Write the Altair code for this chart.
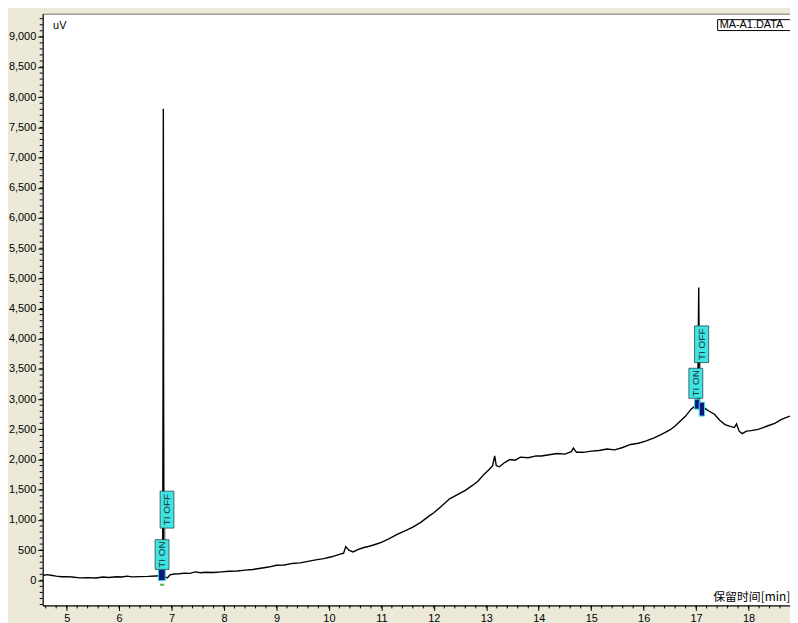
import altair as alt
import pandas as pd

# ---- chromatogram trace (minutes, uV) ----
time_min = [4.55, 4.62, 4.70, 4.80, 4.90, 5.00, 5.10, 5.25, 5.40, 5.55, 5.70, 5.80, 5.95, 6.05,
            6.15, 6.25, 6.40, 6.55, 6.70, 6.78, 6.83, 6.838, 6.843, 6.848, 6.856, 6.87, 6.92,
            6.97, 7.05, 7.15, 7.25, 7.35, 7.45, 7.55, 7.65, 7.80, 7.95, 8.10, 8.25, 8.40, 8.55,
            8.70, 8.85, 9.00, 9.15, 9.30, 9.45, 9.60, 9.75, 9.90, 10.05, 10.20, 10.28, 10.32,
            10.38, 10.46, 10.55, 10.65, 10.75, 10.85, 11.00, 11.15, 11.30, 11.45, 11.60, 11.75,
            11.90, 12.00, 12.15, 12.30, 12.45, 12.60, 12.75, 12.85, 12.95, 13.05, 13.12, 13.16,
            13.19, 13.25, 13.35, 13.45, 13.55, 13.65, 13.80, 13.95, 14.05, 14.20, 14.35, 14.50,
            14.62, 14.66, 14.72, 14.85, 15.00, 15.15, 15.30, 15.45, 15.60, 15.75, 15.90, 16.05,
            16.20, 16.35, 16.50, 16.60, 16.70, 16.80, 16.90, 16.97, 17.03, 17.05, 17.065, 17.10,
            17.15, 17.25, 17.35, 17.45, 17.55, 17.65, 17.73, 17.77, 17.82, 17.88, 17.96, 18.05,
            18.18, 18.28, 18.37, 18.50, 18.62, 18.70, 18.79]
signal_uv = [80, 95, 85, 70, 60, 62, 55, 40, 45, 38, 55, 48, 60, 55,
             70, 58, 62, 65, 72, 75, 95, 3490, 7810, 3400, 150, 60, 40,
             90, 105, 110, 120, 115, 140, 125, 135, 130, 140, 150, 155, 170, 180,
             200, 220, 250, 255, 280, 290, 315, 340, 360, 390, 430, 450, 560,
             500, 470, 510, 540, 560, 585, 630, 690, 760, 820, 880, 960,
             1060, 1120, 1230, 1350, 1420, 1490, 1580, 1650, 1750, 1830, 1900, 2060,
             1900, 1880, 1950, 2000, 1990, 2040, 2030, 2060, 2060, 2080, 2100, 2090,
             2130, 2190, 2120, 2120, 2140, 2150, 2175, 2160, 2200, 2250, 2270, 2310,
             2360, 2420, 2490, 2555, 2640, 2720, 2830, 2880, 2900, 4850, 2950, 2900,
             2860, 2800, 2750, 2650, 2580, 2550, 2530, 2590, 2470, 2430, 2470, 2480,
             2500, 2530, 2560, 2600, 2660, 2690, 2720]

# ---- integration event flags ----
event_labels = ["TI ON", "TI OFF", "TI ON", "TI OFF"]
event_x1 = [6.686, 6.781, 16.862, 16.970]
event_x2 = [6.951, 7.045, 17.127, 17.240]
event_y1 = [181, 865, 3015, 3606]
event_y2 = [673, 1477, 3512, 4213]

# connectors between flags
conn_x = [6.875, 17.08]
conn_y1 = [673, 3512]
conn_y2 = [865, 3606]

# peak start/end markers
marker_x1 = [6.749, 16.97, 17.06]
marker_x2 = [6.880, 17.07, 17.16]
marker_y1 = [-5, 2835, 2720]
marker_y2 = [180, 3000, 2950]
green_x1 = [6.78]
green_x2 = [6.86]
green_y1 = [-90]
green_y2 = [-55]

# ---- axes ----
x_major = list(range(5, 19))
x_minor = [round(4.6 + 0.2 * i, 1) for i in range(71)]
y_major = list(range(0, 9001, 500))
y_minor = list(range(-400, 9301, 100))

W, H = 754, 597
xs = alt.Scale(domain=[4.543, 18.79], nice=False, zero=False)
ys = alt.Scale(domain=[-415, 9383], nice=False, zero=False)

x_axis = alt.Axis(
    values=x_major, labelExpr="format(datum.value, 'd')", labelFontSize=11,
    labelColor="black", tickSize=5,
    labelPadding=2, domainColor="black", tickColor="black", grid=False,
    labelFlush=False, title="保留时间[min]", titleX=676, titleY=-5,
    titleAlign="left", titleBaseline="alphabetic", titleFont="Noto Sans CJK SC",
    titleFontSize=12, titleFontWeight="normal", titleColor="black")
y_axis = alt.Axis(
    values=y_major, labelExpr="format(datum.value, ',')", labelFontSize=11,
    labelColor="black", tickSize=5,
    labelPadding=2, domainColor="black", tickColor="black", grid=False,
    title="uV", titleAngle=0, titleX=10, titleY=12, titleAlign="left",
    titleBaseline="middle", titleFontSize=11, titleFontWeight="normal",
    titleColor="black")

trace = pd.DataFrame({"t": time_min, "v": signal_uv})
events = pd.DataFrame({"label": event_labels, "t": event_x1, "t2": event_x2,
                       "v": event_y1, "v2": event_y2})
events["tm"] = (events["t"] + events["t2"]) / 2
events["vm"] = (events["v"] + events["v2"]) / 2
conns = pd.DataFrame({"t": conn_x, "v": conn_y1, "v2": conn_y2})
markers = pd.DataFrame({"t": marker_x1, "t2": marker_x2, "v": marker_y1, "v2": marker_y2})
greens = pd.DataFrame({"t": green_x1, "t2": green_x2, "v": green_y1, "v2": green_y2})
xminor = pd.DataFrame({"t": x_minor})
yminor = pd.DataFrame({"v": y_minor})
one = pd.DataFrame({"a": [0]})


def X(field="t"):
    return alt.X(f"{field}:Q", scale=xs, axis=x_axis)


def Y(field="v"):
    return alt.Y(f"{field}:Q", scale=ys, axis=y_axis)


line = alt.Chart(trace).mark_line(color="black", strokeWidth=1.4).encode(x=X(), y=Y())

yminor_ticks = alt.Chart(yminor).mark_rule(color="black", strokeWidth=1).encode(
    y=Y(), x=alt.value(-3), x2=alt.value(0))
xminor_ticks = alt.Chart(xminor).mark_rule(color="black", strokeWidth=1).encode(
    x=X(), y=alt.value(H), y2=alt.value(H + 3))

conn_rules = alt.Chart(conns).mark_rule(color="#888888", strokeWidth=1).encode(
    x=X(), y=Y(), y2="v2:Q")

marker_rects = alt.Chart(markers).mark_rect(fill="#101880", stroke="#40E0E0", strokeWidth=1).encode(
    x=X(), x2="t2:Q", y=Y(), y2="v2:Q")
green_rects = alt.Chart(greens).mark_rect(fill="#5cb85c").encode(
    x=X(), x2="t2:Q", y=Y(), y2="v2:Q")

flag_rects = alt.Chart(events).mark_rect(fill="#40E4E4", stroke="#2a4a4a", strokeWidth=0.8).encode(
    x=X(), x2="t2:Q", y=Y(), y2="v2:Q")
flag_text = alt.Chart(events).mark_text(angle=270, fontSize=10, color="#1f3535",
                                        align="center", baseline="middle").encode(
    x=X("tm"), y=Y("vm"), text="label:N")

file_box = alt.Chart(one).mark_rect(fill="white", stroke="black", strokeWidth=1).encode(
    x=alt.value(681), x2=alt.value(770), y=alt.value(6), y2=alt.value(17))
file_text = alt.Chart(one).mark_text(text="MA-A1.DATA", fontSize=11, color="black",
                                     align="left", baseline="middle").encode(
    x=alt.value(683), y=alt.value(11.5))

chart = alt.layer(
    line, yminor_ticks, xminor_ticks, conn_rules, marker_rects, green_rects,
    flag_rects, flag_text, file_box, file_text
).properties(
    width=W, height=H,
    autosize=alt.AutoSizeParams(type="none"),
    padding={"left": 35, "top": 3, "right": 0, "bottom": 15},
    background="#ECE9D8",
).configure(
    font="Liberation Sans"
).configure_view(
    fill="white", stroke="#707070", strokeWidth=1
)

chart.save("out.html", embed_options={"renderer": "svg", "actions": False})
